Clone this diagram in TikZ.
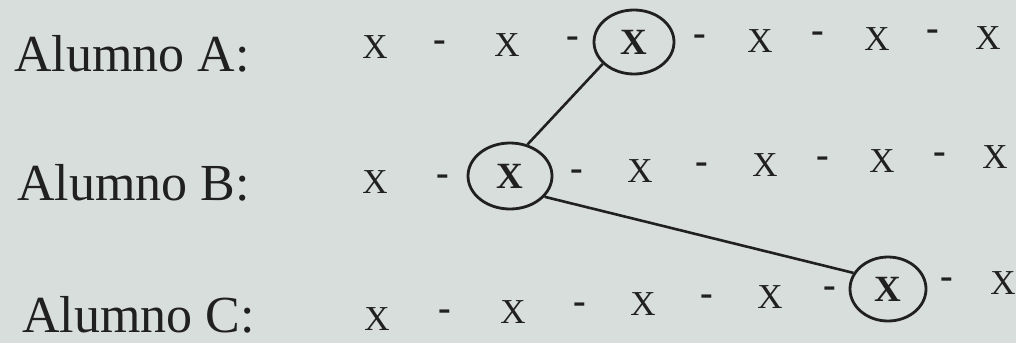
\documentclass[tikz,border=0pt]{standalone}
\usepackage{fontspec}
\setmainfont{Liberation Serif}
\usetikzlibrary{shapes.geometric}
\definecolor{paper}{RGB}{216,222,220}
\definecolor{ink}{RGB}{32,32,32}
\tikzset{
  lbl/.style={anchor=base west, inner sep=0pt, text depth=0pt, text=ink, font=\fontsize{52}{58}\selectfont},
  xx/.style={inner sep=0pt, text=ink, font=\fontsize{35}{38}\selectfont},
  dsh/.style={inner sep=0pt, text=ink, font=\fontsize{38}{40}\selectfont\bfseries},
  circ/.style={ellipse, draw=ink, line width=2.8pt, inner sep=0pt, text=ink,
               font=\fontsize{37}{40}\selectfont\bfseries},
  link/.style={draw=ink, line width=2.6pt}
}
\begin{document}
\begin{tikzpicture}[x=1pt,y=-1pt]
\fill[paper] (0,0) rectangle (1016,343);
\useasboundingbox (0,0) rectangle (1016,343);
% labels
\node[lbl] (la) at (14,71) {Alumno A:};
\node[lbl] (lb) at (17,200) {Alumno B:};
\node[lbl] (lc) at (22,332) {Alumno C:};
% row A
\node[xx] (a1) at (375,47) {X};
\node[dsh] (ad1) at (440,46) {-};
\node[xx] (a2) at (507,45) {X};
\node[dsh] (ad2) at (573,42) {-};
\node[circ, minimum width=80pt, minimum height=64pt] (cA) at (634,42) {X};
\node[dsh] (ad3) at (700,40) {-};
\node[xx] (a4) at (760,41) {X};
\node[dsh] (ad4) at (818,37) {-};
\node[xx] (a5) at (877,39) {X};
\node[dsh] (ad5) at (933,35) {-};
\node[xx] (a6) at (988,38) {X};
% row B
\node[xx] (b1) at (375,182) {X};
\node[dsh] (bd1) at (443,180) {-};
\node[circ, minimum width=84pt, minimum height=66pt] (cB) at (510,176) {X};
\node[dsh] (bd2) at (577,175) {-};
\node[xx] (b3) at (640,171) {X};
\node[dsh] (bd3) at (702,168) {-};
\node[xx] (b4) at (765,165) {X};
\node[dsh] (bd4) at (823,162) {-};
\node[xx] (b5) at (882,161) {X};
\node[dsh] (bd5) at (940,158) {-};
\node[xx] (b6) at (995,157) {X};
% row C
\node[xx] (c1) at (377,319) {X};
\node[dsh] (cd1) at (445,315) {-};
\node[xx] (c2) at (513,312) {X};
\node[dsh] (cd2) at (580,308) {-};
\node[xx] (c3) at (643,304) {X};
\node[dsh] (cd3) at (707,300) {-};
\node[xx] (c4) at (770,297) {X};
\node[dsh] (cd4) at (830,292) {-};
\node[circ, minimum width=76pt, minimum height=64pt] (cC) at (888,289) {X};
\node[dsh] (cd5) at (947,283) {-};
\node[xx] (c6) at (1003,283) {X};
% connectors
\draw[link] (cA.215) -- (cB.61);
\draw[link] (cB.329) -- (cC.155);
\end{tikzpicture}
\end{document}
